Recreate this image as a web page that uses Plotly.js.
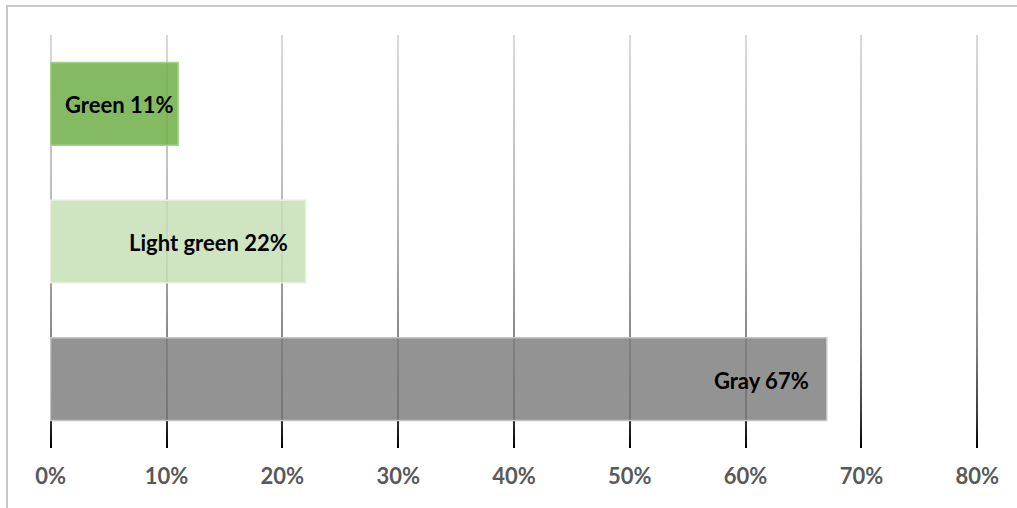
<!DOCTYPE html>
<html>
<head>
<meta charset="utf-8">
<script src="https://cdn.plot.ly/plotly-3.0.1.min.js"></script>
<style>
  html, body { margin: 0; padding: 0; overflow: hidden; background: #fff; }
  #wrap { position: relative; width: 1017px; height: 508px; }
  #chart { position: absolute; left: 0; top: 0; width: 1017px; height: 508px; }
  #frame {
    position: absolute; left: 6px; top: 5px; width: 2000px; height: 2000px;
    border-left: 2px solid #c9c9c9; border-top: 2px solid #c9c9c9;
    pointer-events: none;
  }
</style>
</head>
<body>
<div id="wrap">
  <div id="chart"></div>
  <div id="frame"></div>
</div>
<script>
// Shares by colour, listed bottom to top
const categories = ['Gray', 'Light green', 'Green'];
const shares = [67, 22, 11];
const tickValues = [0, 10, 20, 30, 40, 50, 60, 70, 80];
const tickLabels = ['0%', '10%', '20%', '30%', '40%', '50%', '60%', '70%', '80%'];

// Slightly translucent fills so the grid shows through the bars
const fillColors = ['rgba(128,128,128,0.85)', 'rgba(199,224,183,0.85)', 'rgba(110,175,71,0.85)'];
const edgeColors = ['#c4c4c4', '#e4f0dc', '#a6cf8c'];
// gap between a label's right edge and the end of its bar, in px
const labelPads = [16, 16, 2];

const labelFont = { family: 'Lato, "Open Sans", sans-serif', size: 22, color: '#000', weight: 700 };

const trace = {
  type: 'bar',
  orientation: 'h',
  y: categories,
  x: shares,
  width: 0.6,
  marker: { color: fillColors, line: { color: edgeColors, width: 1.5 } },
  hoverinfo: 'none'
};

const annotations = categories.map((c, i) => ({
  x: shares[i],
  y: c,
  xref: 'x',
  yref: 'y',
  text: c + ' ' + shares[i] + '%',
  showarrow: false,
  xanchor: 'right',
  yanchor: 'middle',
  xshift: -labelPads[i],
  yshift: -1,
  font: labelFont
}));

const layout = {
  width: 1017,
  height: 508,
  margin: { l: 49, r: 38, t: 35, b: 60 },
  paper_bgcolor: '#fff',
  plot_bgcolor: '#fff',
  showlegend: false,
  bargap: 0.4,
  xaxis: {
    // a little slack either side keeps the 0% and 80% grid lines drawn
    range: [-0.15, 80.15],
    tickmode: 'array',
    tickvals: tickValues,
    ticktext: tickLabels,
    showgrid: true,
    gridcolor: '#8a8a8a',
    gridwidth: 2,
    zeroline: false,
    showline: false,
    ticks: '',
    ticklabelstandoff: 13,
    tickfont: { family: 'Lato, "Open Sans", sans-serif', size: 22, color: '#595959', weight: 700 },
    fixedrange: true
  },
  yaxis: {
    type: 'category',
    categoryorder: 'array',
    categoryarray: categories,
    range: [-0.5, 2.5],
    showgrid: false,
    zeroline: false,
    showline: false,
    showticklabels: false,
    ticks: '',
    fixedrange: true
  },
  annotations: annotations
};

Plotly.newPlot('chart', [trace], layout, { staticPlot: true, displayModeBar: false }).then(gd => {
  // Give the vertical grid lines a light-to-dark fade from top to bottom
  const svg = gd.querySelector('svg.main-svg');
  const paths = gd.querySelectorAll('.gridlayer .x path, .gridlayer .xgrid');
  if (!svg || !paths.length) return;
  const box = paths[0].getBBox();
  const ns = 'http://www.w3.org/2000/svg';
  let defs = svg.querySelector('defs');
  if (!defs) { defs = document.createElementNS(ns, 'defs'); svg.insertBefore(defs, svg.firstChild); }
  const grad = document.createElementNS(ns, 'linearGradient');
  grad.setAttribute('id', 'gridFade');
  grad.setAttribute('gradientUnits', 'userSpaceOnUse');
  grad.setAttribute('x1', '0');
  grad.setAttribute('x2', '0');
  grad.setAttribute('y1', String(box.y));
  grad.setAttribute('y2', String(box.y + box.height));
  [[0, '#d9d9d9'], [0.45, '#b8b8b8'], [0.75, '#858585'], [0.92, '#3a3a3a'], [1, '#000000']].forEach(([o, c]) => {
    const s = document.createElementNS(ns, 'stop');
    s.setAttribute('offset', String(o));
    s.setAttribute('stop-color', c);
    grad.appendChild(s);
  });
  defs.appendChild(grad);
  paths.forEach(p => { p.style.stroke = 'url(#gridFade)'; p.style.strokeOpacity = 1; });
});
</script>
</body>
</html>
